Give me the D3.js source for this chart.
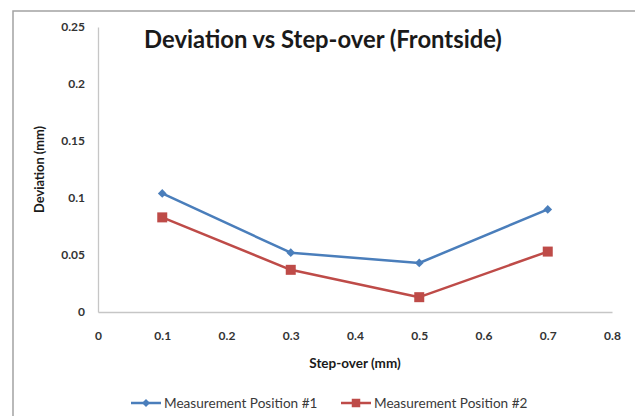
<!DOCTYPE html>
<html>
<head>
<meta charset="utf-8">
<script src="https://cdn.jsdelivr.net/npm/d3@7"></script>
<style>
  html, body { margin: 0; padding: 0; background: #fff; }
  svg { display: block; font-family: Lato, "Open Sans", sans-serif; }
</style>
</head>
<body>
<svg id="chart" width="635" height="416"></svg>
<script>
// Step-over values (mm) and measured deviation (mm) for each position
const stepOver = [0.1, 0.3, 0.5, 0.7];
const position1 = [0.104, 0.052, 0.043, 0.090];
const position2 = [0.083, 0.037, 0.013, 0.053];
const xTicks = [0, 0.1, 0.2, 0.3, 0.4, 0.5, 0.6, 0.7, 0.8];
const yTicks = [0, 0.05, 0.1, 0.15, 0.2, 0.25];
const seriesNames = ["Measurement Position #1", "Measurement Position #2"];

const series = [
  { name: seriesNames[0], values: position1, color: "#4a7ebb", marker: "diamond" },
  { name: seriesNames[1], values: position2, color: "#be4b48", marker: "square" }
];

const svg = d3.select("#chart");

// outer chart frame
svg.append("rect")
  .attr("x", 13).attr("y", 11)
  .attr("width", 700).attr("height", 500)
  .attr("fill", "none")
  .attr("stroke", "#a3a3a3")
  .attr("stroke-width", 1.5);

const x = d3.scaleLinear().domain([0, 0.8]).range([98, 612]);
const y = d3.scaleLinear().domain([0, 0.25]).range([312, 27]);

const fmt = d => (d === 0 ? "0" : String(+d.toFixed(2)));

// y axis
const gy = svg.append("g")
  .attr("transform", `translate(${x(0)},0)`)
  .call(d3.axisLeft(y).tickValues(yTicks).tickFormat(fmt).tickSize(0).tickPadding(13));
gy.select(".domain").attr("stroke", "#c6c6c6").attr("stroke-width", 1.3);

// x axis
const gx = svg.append("g")
  .attr("transform", `translate(0,${y(0)})`)
  .call(d3.axisBottom(x).tickValues(xTicks).tickFormat(fmt).tickSize(0).tickPadding(19));
gx.select(".domain").attr("stroke", "#c6c6c6").attr("stroke-width", 1.3);

svg.selectAll(".tick text")
  .attr("fill", "#333")
  .style("font-family", "Lato, sans-serif")
  .style("font-size", "12px")
  .style("font-weight", "bold");

// title
svg.append("text")
  .attr("x", 323).attr("y", 48)
  .attr("text-anchor", "middle")
  .attr("fill", "#1a1a1a")
  .style("font-size", "23.8px")
  .style("font-weight", "bold")
  .text("Deviation vs Step-over (Frontside)");

// axis titles
svg.append("text")
  .attr("transform", `translate(44,${(y(0) + y(0.25)) / 2}) rotate(-90)`)
  .attr("text-anchor", "middle")
  .attr("fill", "#1a1a1a")
  .style("font-size", "12.8px")
  .style("font-weight", "bold")
  .text("Deviation (mm)");

svg.append("text")
  .attr("x", 355).attr("y", 368)
  .attr("text-anchor", "middle")
  .attr("fill", "#1a1a1a")
  .style("font-size", "13.5px")
  .style("font-weight", "bold")
  .text("Step-over (mm)");

const line = d3.line().x(d => x(d[0])).y(d => y(d[1]));

function drawMarker(g, type, cx, cy, color, scale = 1) {
  if (type === "diamond") {
    g.append("path")
      .attr("d", d3.symbol().type(d3.symbolSquare).size(38 * scale)())
      .attr("transform", `translate(${cx},${cy}) rotate(45)`)
      .attr("fill", color);
  } else {
    const s = 10 * scale;
    g.append("rect")
      .attr("x", cx - s / 2).attr("y", cy - s / 2)
      .attr("width", s).attr("height", s)
      .attr("fill", color);
  }
}

// series lines and markers
series.forEach(s => {
  const pts = stepOver.map((v, i) => [v, s.values[i]]);
  const g = svg.append("g");
  g.append("path")
    .attr("d", line(pts))
    .attr("fill", "none")
    .attr("stroke", s.color)
    .attr("stroke-width", 2.5)
    .attr("stroke-linejoin", "round");
  pts.forEach(p => drawMarker(g, s.marker, x(p[0]), y(p[1]), s.color));
});

// legend
const legendY = 403;
const legendX = [131, 341];
series.forEach((s, i) => {
  const g = svg.append("g");
  g.append("line")
    .attr("x1", legendX[i]).attr("x2", legendX[i] + 30)
    .attr("y1", legendY).attr("y2", legendY)
    .attr("stroke", s.color).attr("stroke-width", 2.5);
  drawMarker(g, s.marker, legendX[i] + 15, legendY, s.color, 0.85);
  g.append("text")
    .attr("x", legendX[i] + 33).attr("y", legendY + 5)
    .attr("fill", "#3a3a3a")
    .style("font-size", "13.6px")
    .text(s.name);
});
</script>
</body>
</html>
